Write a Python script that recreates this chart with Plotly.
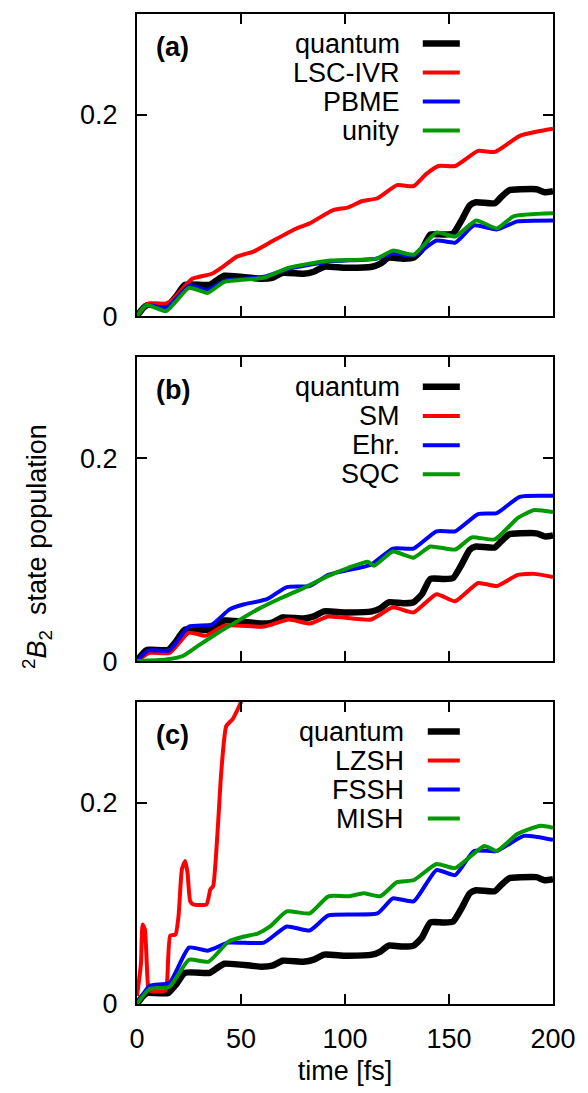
import plotly.graph_objects as go

# ---------------- data ----------------
t_quantum = [0, 3, 5, 15, 19, 23, 35, 38, 42, 55, 60, 65, 70, 80, 85, 90, 100, 113, 117, 121,
             128, 133, 137, 141, 147, 152, 156, 160, 163, 172, 175, 179, 185, 192, 196, 200]
y_quantum = [0, 0.008, 0.011, 0.011, 0.020, 0.031, 0.031, 0.035, 0.040, 0.038, 0.037, 0.038,
             0.043, 0.042, 0.044, 0.049, 0.048, 0.049, 0.052, 0.058, 0.057, 0.058, 0.066, 0.081,
             0.081, 0.082, 0.095, 0.110, 0.113, 0.112, 0.118, 0.125, 0.126, 0.126, 0.123, 0.124]

# panel (a)
t_lsc = [0, 4.7, 14, 17, 26.5, 36, 42, 48, 56, 65.6, 76.6, 83, 94, 101.6, 108, 115.6, 125, 133,
         139, 145, 153, 164, 172, 184, 192, 200]
y_lsc = [0, 0.012, 0.0125, 0.016, 0.037, 0.042, 0.050, 0.059, 0.064, 0.075, 0.087, 0.092, 0.105,
         0.108, 0.114, 0.117, 0.130, 0.129, 0.141, 0.149, 0.149, 0.164, 0.163, 0.179, 0.183, 0.186]
t_pbme = [0, 4.7, 14, 25, 34, 42, 61, 73, 92, 115, 123, 133, 144, 153, 162, 173, 183, 200]
y_pbme = [0, 0.011, 0.008, 0.030, 0.026, 0.035, 0.039, 0.047, 0.054, 0.057, 0.062, 0.060, 0.075,
          0.073, 0.090, 0.086, 0.094, 0.095]
t_unity = [0, 4.7, 14, 25, 34, 42, 61, 73, 92, 115, 123, 133, 144, 153, 163, 173, 181, 200]
y_unity = [0, 0.011, 0.005, 0.028, 0.023, 0.034, 0.038, 0.048, 0.055, 0.057, 0.065, 0.061, 0.083,
           0.079, 0.095, 0.087, 0.099, 0.102]

# panel (b)
t_sm = [0, 6, 15.6, 25, 33, 42, 61, 73, 83, 92, 112.5, 123, 133, 144, 153, 164, 173, 183, 191, 200]
y_sm = [0, 0.008, 0.008, 0.028, 0.025, 0.035, 0.034, 0.041, 0.037, 0.044, 0.041, 0.053, 0.048,
        0.066, 0.059, 0.077, 0.074, 0.085, 0.086, 0.083]
t_ehr = [0, 5.5, 15.6, 25, 36, 44.5, 51.6, 62.5, 72, 83, 92, 100, 112.5, 123, 133, 144, 153, 164,
         173, 184, 200]
y_ehr = [0, 0.0105, 0.0105, 0.034, 0.036, 0.051, 0.056, 0.061, 0.073, 0.074, 0.085, 0.089, 0.095,
         0.111, 0.111, 0.128, 0.128, 0.145, 0.146, 0.162, 0.163]
t_sqc = [0, 14, 22, 30, 40.6, 48, 58, 69, 80, 92, 101.6, 111, 114, 123, 133, 141, 153, 161, 172,
         183, 191, 200]
y_sqc = [0, 0.0016, 0.005, 0.016, 0.030, 0.039, 0.051, 0.062, 0.072, 0.084, 0.092, 0.098, 0.094,
         0.108, 0.102, 0.113, 0.110, 0.122, 0.120, 0.141, 0.149, 0.147]

# panel (c)
t_lzsh = [0, 1.9, 2.7, 3.8, 5.4, 6.5, 13.5, 14.5, 16, 18.5, 20, 21.6, 23.2, 24.3, 25.6, 27.1,
          33.4, 35.3, 36.6, 39, 40.5, 42.9, 46, 48.5, 50, 52]
y_lzsh = [0.008, 0.040, 0.079, 0.074, 0.017, 0.013, 0.013, 0.023, 0.068, 0.069, 0.088, 0.134,
          0.142, 0.130, 0.102, 0.099, 0.099, 0.114, 0.117, 0.180, 0.230, 0.276, 0.283, 0.293,
          0.300, 0.320]
t_fssh = [0, 6, 15.6, 25, 34, 44, 61, 72, 83, 92, 115.6, 123, 133, 144, 153, 162, 173, 186, 200]
y_fssh = [0, 0.018, 0.021, 0.056, 0.053, 0.061, 0.061, 0.077, 0.073, 0.088, 0.090, 0.105, 0.102,
          0.133, 0.128, 0.152, 0.152, 0.167, 0.163]
t_mish = [0, 6, 15.6, 25, 34.4, 44, 51.6, 58, 64, 72, 83, 92, 101.6, 109, 117, 125, 133, 144, 153,
          167, 173, 183, 194, 200]
y_mish = [0, 0.015, 0.017, 0.044, 0.042, 0.062, 0.067, 0.070, 0.077, 0.092, 0.090, 0.107, 0.107,
          0.110, 0.107, 0.121, 0.123, 0.139, 0.135, 0.157, 0.152, 0.169, 0.177, 0.175]

panel_labels = ["(a)", "(b)", "(c)"]
names_a = ["quantum", "LSC-IVR", "PBME", "unity"]
names_b = ["quantum", "SM", "Ehr.", "SQC"]
names_c = ["quantum", "LZSH", "FSSH", "MISH"]
x_ticks = [0, 50, 100, 150, 200]
y_ticks = [0, 0.2]
y_ticktext = ["0", "0.2"]

colors = ["#000000", "#ff0000", "#0000ff", "#009900"]
widths = [6.5, 4, 4, 4]

panels = [
    (names_a, [(t_quantum, y_quantum), (t_lsc, y_lsc), (t_pbme, y_pbme), (t_unity, y_unity)]),
    (names_b, [(t_quantum, y_quantum), (t_sm, y_sm), (t_ehr, y_ehr), (t_sqc, y_sqc)]),
    (names_c, [(t_quantum, y_quantum), (t_lzsh, y_lzsh), (t_fssh, y_fssh), (t_mish, y_mish)]),
]

FONT = "Liberation Sans, Arial, Helvetica, sans-serif"
FS = 27

fig = go.Figure()

# domains in paper coordinates (plot area px 13..1006 over 993 px)
domains = [[0.6949, 1.0], [0.3464, 0.6536], [0.0, 0.3051]]

shapes = []
annotations = []
for p, (names, series) in enumerate(panels):
    xa = "x" if p == 0 else f"x{p+1}"
    ya = "y" if p == 0 else f"y{p+1}"
    for k in range(4):
        tx, ty = series[k]
        fig.add_trace(go.Scatter(x=tx, y=ty, mode="lines", name=names[k], xaxis=xa, yaxis=ya,
                                 line=dict(color=colors[k], width=widths[k],
                                           shape="spline", smoothing=0.5),
                                 showlegend=False))
    # legend (text right aligned + line sample to the right)
    text_right = 0.647 if p == 2 else 0.636
    line_x0 = 0.699 if p == 2 else 0.687
    for k, nm in enumerate(names):
        yy = 0.902 - 0.096 * k
        annotations.append(dict(text=nm, xref=f"{xa} domain", yref=f"{ya} domain",
                                x=text_right, y=yy, xanchor="right", yanchor="middle",
                                showarrow=False, font=dict(size=FS, family=FONT, color="black")))
        shapes.append(dict(type="line", xref=f"{xa} domain", yref=f"{ya} domain",
                           x0=line_x0, x1=0.776, y0=yy, y1=yy,
                           line=dict(color=colors[k], width=widths[k])))
    annotations.append(dict(text=f"<b>{panel_labels[p]}</b>", xref=f"{xa} domain",
                            yref=f"{ya} domain", x=0.040, y=0.892, xanchor="left",
                            yanchor="middle", showarrow=False,
                            font=dict(size=FS, family=FONT, color="black")))

axis_common = dict(showline=True, linecolor="black", linewidth=2, mirror="ticks",
                   ticks="inside", ticklen=10, tickwidth=2, tickcolor="black",
                   showgrid=False, zeroline=False,
                   tickfont=dict(size=FS, family=FONT, color="black"))

layout = dict(width=588, height=1093, plot_bgcolor="white", paper_bgcolor="white",
              margin=dict(l=137, r=25, t=13, b=87), showlegend=False,
              font=dict(family=FONT, size=FS, color="black"))
for p in range(3):
    xk = "xaxis" if p == 0 else f"xaxis{p+1}"
    yk = "yaxis" if p == 0 else f"yaxis{p+1}"
    ya = "y" if p == 0 else f"y{p+1}"
    xa = "x" if p == 0 else f"x{p+1}"
    layout[xk] = dict(axis_common, range=[0, 200], tickvals=x_ticks, anchor=ya,
                      showticklabels=(p == 2), ticklabelstandoff=10)
    if p == 2:
        layout[xk]["title"] = dict(text="time [fs]", font=dict(size=FS, family=FONT), standoff=8)
    layout[yk] = dict(axis_common, range=[0, 0.3], tickvals=y_ticks, ticktext=y_ticktext,
                      domain=domains[p], anchor=xa, ticklabelstandoff=12)
    if p > 0:
        layout[xk]["matches"] = "x"

annotations.append(dict(text="<sup>2</sup><i>B</i><sub>2</sub>  state population",
                        xref="paper", yref="paper", x=-0.242, y=0.462, textangle=-90,
                        xanchor="center", yanchor="middle", showarrow=False,
                        font=dict(size=FS, family=FONT, color="black")))

layout["shapes"] = shapes
layout["annotations"] = annotations
fig.update_layout(**layout)

fig.write_html("out.html", config={"displayModeBar": False},
               post_script="document.body.style.margin='0';document.body.style.overflow='hidden';")
